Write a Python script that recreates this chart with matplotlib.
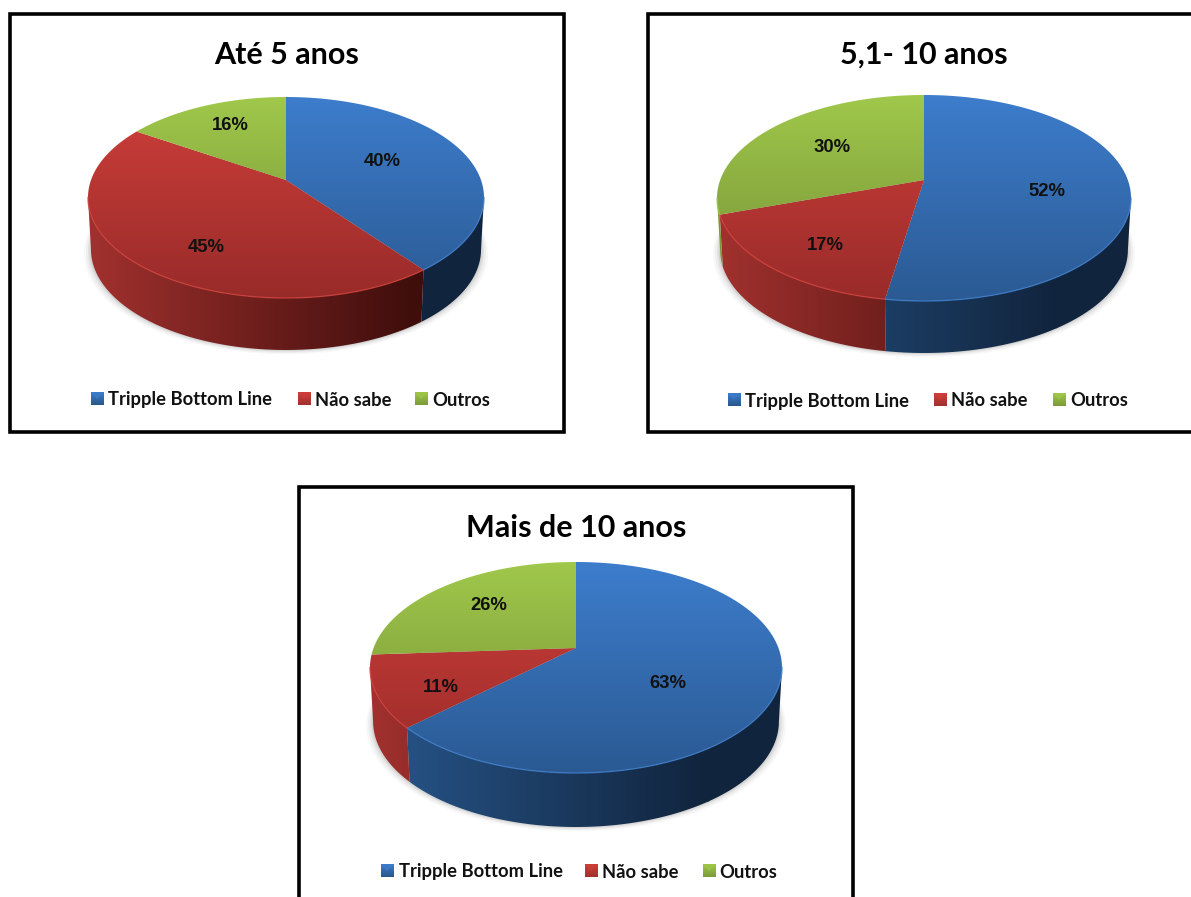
import numpy as np
import matplotlib
matplotlib.use("Agg")
import matplotlib.pyplot as plt
from matplotlib.patches import Polygon, Rectangle
from matplotlib.colors import to_rgb

# data
titles = ["Até 5 anos", "5,1- 10 anos", "Mais de 10 anos"]
categories = ["Tripple Bottom Line", "Não sabe", "Outros"]
values_ate5 = [40, 45, 16]
values_5a10 = [52, 17, 30]
values_mais10 = [63, 11, 26]
all_values = [values_ate5, values_5a10, values_mais10]

# colours for the top of each slice (light, dark)
top_colors = [("#3d7dcc", "#2b5a93"), ("#cf3f3b", "#982b29"), ("#a0c84b", "#738f35")]
wall_colors = [("#27568a", "#11243d"), ("#a1312e", "#3f0e0c"), ("#7d9a38", "#3f5018")]

# layout, in pixels of the picture
boxes = [(9.5, 14.5, 554, 418), (647.5, 14.5, 600, 418), (298.5, 487.5, 554, 460)]
title_xy = [(287, 55), (924, 55), (576, 528)]
apex = [(286, 180), (924, 180), (576, 648)]
half_width = [198, 207, 206]
up = [83, 85, 86]
down = [118, 121, 125]
depth = [52, 52, 54]
label_xy = [
    [(382, 161), (206, 247), (230, 125)],
    [(1047, 191), (825, 246), (832, 147)],
    [(668, 683), (441, 688), (489, 606)],
]
legend_y = [400, 401, 872]
legend_box_x = [[97, 304, 421], [734, 940, 1059], [387, 591, 709]]
legend_text_x = [[108, 315, 432], [745, 951, 1070], [399, 602, 719]]

fig = plt.figure(figsize=(11.91, 8.97), dpi=100)
ax = fig.add_axes([0, 0, 1, 1])
ax.set_xlim(0, 1191)
ax.set_ylim(897, 0)
ax.axis("off")
ax.set_autoscale_on(False)


def gradient(c0, c1, horizontal=False, n=128):
    c0 = np.array(to_rgb(c0))
    c1 = np.array(to_rgb(c1))
    f = np.linspace(0, 1, n)[:, None]
    img = c0 + (c1 - c0) * f
    return img[None, :, :] if horizontal else img[:, None, :]


def painted(points, img, extent, z):
    # gradient image cut to the shape of a polygon
    poly = Polygon(points, closed=True, fc="none", ec="none", transform=ax.transData)
    ax.add_patch(poly)
    im = ax.imshow(img, extent=extent, aspect="auto", zorder=z, interpolation="bilinear")
    im.set_clip_path(poly)


for i, vals in enumerate(all_values):
    x, y, w, h = boxes[i]
    cx, cy = apex[i]
    ax.add_patch(Rectangle((x, y), w, h, fc="white", ec="black", lw=2.6, zorder=1))

    k = (down[i] - up[i]) / (down[i] + up[i])
    b = up[i] * (1 + k)
    a = half_width[i] * np.sqrt(1 - k ** 2)

    def project(t):
        px = a * np.sin(t) / (1 + k * np.cos(t))
        py = -b * np.cos(t) / (1 + k * np.cos(t))
        return px, py

    shares = np.array(vals) / sum(vals)
    edges = np.concatenate([[0], np.cumsum(shares)]) * 2 * np.pi

    left = cx - half_width[i]
    right = cx + half_width[i]
    top_y = cy - up[i]
    low_y = cy + down[i]

    # soft shadow under the pie
    t_all = np.linspace(0, 2 * np.pi, 240)
    sx, sy = project(t_all)
    for grow, alpha in [(7, 0.04), (5, 0.06), (3, 0.08), (1.5, 0.10)]:
        sh = np.column_stack([cx + sx * (0.985 + grow / half_width[i]), cy + sy + depth[i] + grow * 0.6])
        ax.add_patch(Polygon(sh, closed=True, fc="#555555", ec="none", alpha=alpha, zorder=2))

    # side wall, only the front part of the rim shows
    wall_from = np.arccos(-k)
    wall_to = 2 * np.pi - wall_from
    for j in range(3):
        t0 = max(edges[j], wall_from)
        t1 = min(edges[j + 1], wall_to)
        if t1 <= t0:
            continue
        t = np.linspace(t0, t1, 120)
        px, py = project(t)
        upper = np.column_stack([cx + px, cy + py])
        lower = np.column_stack([cx + px * 0.985, cy + py + depth[i]])
        pts = np.vstack([upper, lower[::-1]])
        painted(pts, gradient(*wall_colors[j], horizontal=True),
                (left, left + (right - left) * 0.82, low_y + depth[i], top_y), 3)
        # wall colour stays dark past the end of the gradient
        far = pts.copy()
        far[:, 0] = np.maximum(far[:, 0], left + (right - left) * 0.82)
        if far[:, 0].max() > left + (right - left) * 0.82:
            ax.add_patch(Polygon(far, closed=True, fc=wall_colors[j][1], ec="none", zorder=3))

    # top of the slices
    for j in range(3):
        t = np.linspace(edges[j], edges[j + 1], 240)
        px, py = project(t)
        pts = np.vstack([[cx, cy], np.column_stack([cx + px, cy + py])])
        painted(pts, gradient(*top_colors[j]), (left, right, low_y, top_y), 4)

    # thin light rim on the front edge of the top
    for j in range(3):
        t0 = max(edges[j], wall_from)
        t1 = min(edges[j + 1], wall_to)
        if t1 <= t0:
            continue
        t = np.linspace(t0, t1, 120)
        px, py = project(t)
        ax.plot(cx + px, cy + py, color=top_colors[j][0], lw=1.0, alpha=0.8, zorder=5)

    ax.text(*title_xy[i], titles[i], family="Lato", weight="bold", fontsize=22,
            ha="center", va="center", color="black", zorder=6)

    for j in range(3):
        ax.text(*label_xy[i][j], f"{vals[j]}%", family="Liberation Sans", weight="bold",
                fontsize=13.3, ha="center", va="center", color="#111111", zorder=6)

        # legend marker, a small bevelled square
        bx = legend_box_x[i][j]
        by = legend_y[i] - 1
        s = 6.5
        ax.imshow(gradient(top_colors[j][0], wall_colors[j][0]),
                  extent=(bx - s, bx + s, by + s, by - s), aspect="auto", zorder=6)
        ax.add_patch(Polygon([(bx - s, by - s), (bx + s, by - s), (bx, by)], closed=True,
                             fc=top_colors[j][0], ec="none", alpha=0.6, zorder=7))
        ax.text(legend_text_x[i][j], legend_y[i], categories[j], family="Lato", weight="bold",
                fontsize=13.2, ha="left", va="center", color="#111111", zorder=6)

fig.savefig("out.png", dpi=100)
